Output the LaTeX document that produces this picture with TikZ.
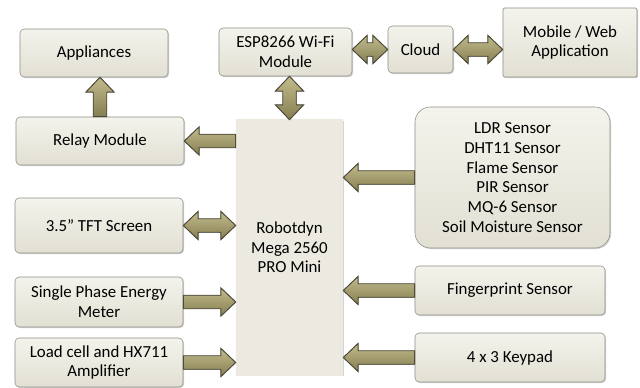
\documentclass[tikz,border=0pt]{standalone}
\usepackage{fontspec}
\setmainfont{Carlito}
\usepackage{xcolor}
\usepackage{tikz}
\usetikzlibrary{calc,shadows}

\definecolor{boxtop}{HTML}{F4F3EC}
\definecolor{boxbot}{HTML}{E2E0D3}
\definecolor{boxline}{HTML}{8E8E88}
\definecolor{oliveup}{HTML}{C2BB8C}
\definecolor{olivedn}{HTML}{857E52}
\definecolor{oliveline}{HTML}{4E4B3B}
\definecolor{mcu}{HTML}{ECEAE0}

% do rong mui ten
\def\shaftw{4.8pt}
\def\headw{10pt}
\def\tipl{10.5pt}

% mui ten mot chieu
\newcommand\oneway[2]{%
  \coordinate (s) at (#1);
  \coordinate (t) at (#2);
  \coordinate (b) at ($(t)!\tipl!(s)$);
  \filldraw[fat] ($(s)!\shaftw!90:(t)$) -- ($(b)!\shaftw!90:(t)$)
    -- ($(b)!\headw!90:(t)$) -- (t) -- ($(b)!\headw!-90:(t)$)
    -- ($(b)!\shaftw!-90:(t)$) -- ($(s)!\shaftw!-90:(t)$) -- cycle;}

% mui ten hai chieu
\newcommand\twoway[2]{%
  \coordinate (s) at (#1);
  \coordinate (t) at (#2);
  \coordinate (a) at ($(s)!\tipl!(t)$);
  \coordinate (b) at ($(t)!\tipl!(s)$);
  \filldraw[fat] (s) -- ($(a)!\headw!90:(t)$) -- ($(a)!\shaftw!90:(t)$)
    -- ($(b)!\shaftw!90:(t)$) -- ($(b)!\headw!90:(t)$) -- (t)
    -- ($(b)!\headw!-90:(t)$) -- ($(b)!\shaftw!-90:(t)$)
    -- ($(a)!\shaftw!-90:(t)$) -- ($(a)!\headw!-90:(t)$) -- cycle;}

\begin{document}
\begin{tikzpicture}[x=0.025cm,y=-0.025cm,
    box/.style={draw=boxline,top color=boxtop,bottom color=boxbot,
      rounded corners=3pt,align=center,inner sep=0pt,
      font=\fontsize{12}{14}\selectfont,
      drop shadow={shadow xshift=0.8pt,shadow yshift=-0.8pt,fill=black!35}},
    fat/.style={draw=oliveline,line width=0.7pt,line join=miter,
      top color=oliveup,bottom color=olivedn}]
\useasboundingbox (0,0) rectangle (640,388);
% Cac khoi
\node[box,minimum width=3.7cm,minimum height=1.2cm] (appl) at (94,53) {Appliances};
\node[box,minimum width=4.2cm,minimum height=1.2cm] (relay) at (100,141) {Relay Module};
\node[box,minimum width=3.325cm,minimum height=1.2cm] (esp) at (285.5,52) {ESP8266 Wi-Fi\\Module};
\node[box,minimum width=1.625cm,minimum height=1.175cm] (cloud) at (420.5,49.5) {Cloud};
\node[box,minimum width=3.35cm,minimum height=1.725cm,rounded corners=1pt] (mobile) at (570,42.5) {Mobile / Web\\Application};
\node[box,draw=none,fill=mcu,top color=mcu,bottom color=mcu,rounded corners=0pt,
  minimum width=2.675cm,minimum height=6.375cm] (main) at (289.5,247.5) {Robotdyn\\Mega 2560\\PRO Mini};
\node[box,rounded corners=11pt,minimum width=4.875cm,minimum height=3.525cm] (sens) at (512.5,177.5)
  {LDR Sensor\\DHT11 Sensor\\Flame Sensor\\PIR Sensor\\MQ-6 Sensor\\Soil Moisture Sensor};
\node[box,minimum width=4.75cm,minimum height=1.225cm] (finger) at (510,290.5) {Fingerprint Sensor};
\node[box,minimum width=4.75cm,minimum height=1.225cm] (keypad) at (510,357.5) {4 x 3 Keypad};
\node[box,minimum width=4.2cm,minimum height=1.375cm] (tft) at (99,225.5) {3.5” TFT Screen};
\node[box,minimum width=4.2cm,minimum height=1.25cm] (meter) at (99,302) {Single Phase Energy\\Meter};
\node[box,minimum width=4.2cm,minimum height=1.225cm] (load) at (99,362.5) {Load cell and HX711\\Amplifier};
% Cac mui ten
\oneway{relay.north}{relay.north |- appl.south}
\twoway{main.north}{main.north |- esp.south}
\twoway{esp.east |- cloud.west}{cloud.west}
\twoway{cloud.east}{cloud.east -| mobile.west}
\oneway{relay.east -| main.west}{relay.east}
\twoway{tft.east}{tft.east -| main.west}
\oneway{meter.east}{meter.east -| main.west}
\oneway{load.east}{load.east -| main.west}
\oneway{sens.west}{sens.west -| main.east}
\oneway{finger.west}{finger.west -| main.east}
\oneway{keypad.west}{keypad.west -| main.east}
\end{tikzpicture}
\end{document}
